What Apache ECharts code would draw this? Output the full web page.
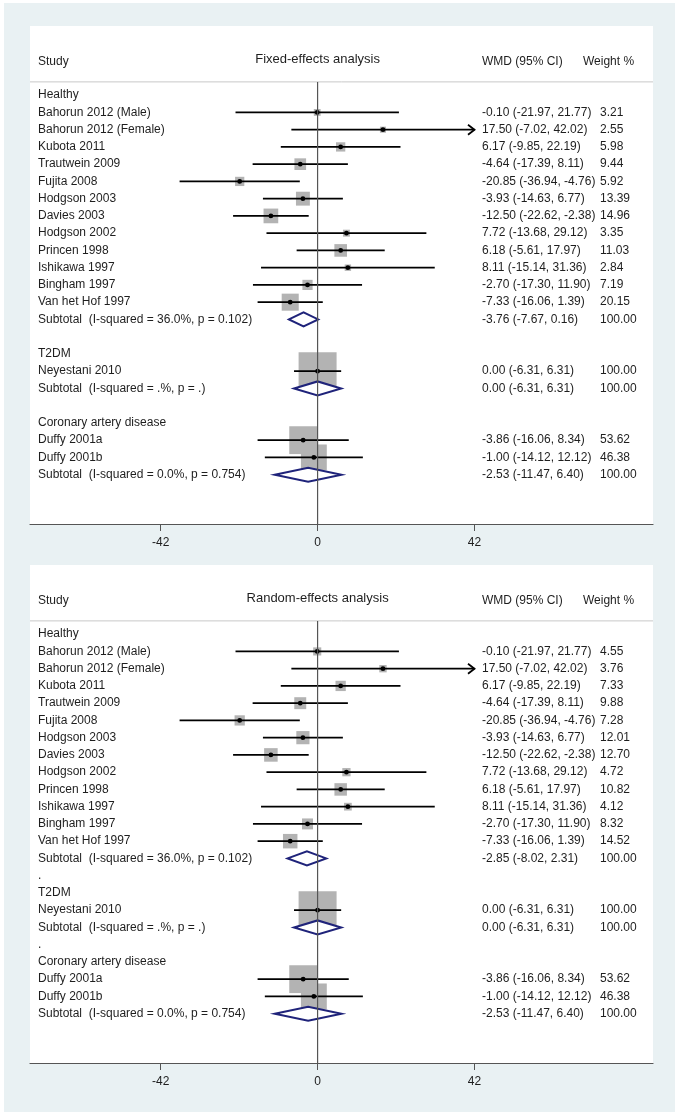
<!DOCTYPE html>
<html>
<head>
<meta charset="utf-8">
<script src="https://cdn.jsdelivr.net/npm/echarts@6/dist/echarts.min.js"></script>
<style>
html,body{margin:0;padding:0;background:#fff;}
#chart{width:679px;height:1117px;}
</style>
</head>
<body>
<div id="chart"></div>
<script>
// ---------------- DATA ----------------
const panelTitles = ["Fixed-effects analysis", "Random-effects analysis"];
const headerLabels = ["Study", "WMD (95% CI)", "Weight %"];
const groupNames = ["Healthy", "T2DM", "Coronary artery disease"];
const blankLabels = ["", "."]; // separator rows: empty in fixed panel, "." in random panel

const healthyStudies = ["Bahorun 2012 (Male)", "Bahorun 2012 (Female)", "Kubota 2011", "Trautwein 2009",
  "Fujita 2008", "Hodgson 2003", "Davies 2003", "Hodgson 2002", "Princen 1998", "Ishikawa 1997",
  "Bingham 1997", "Van het Hof 1997"];
const healthyWMD   = [-0.10, 17.50, 6.17, -4.64, -20.85, -3.93, -12.50, 7.72, 6.18, 8.11, -2.70, -7.33];
const healthyLower = [-21.97, -7.02, -9.85, -17.39, -36.94, -14.63, -22.62, -13.68, -5.61, -15.14, -17.30, -16.06];
const healthyUpper = [21.77, 42.02, 22.19, 8.11, -4.76, 6.77, -2.38, 29.12, 17.97, 31.36, 11.90, 1.39];
const healthyWeightFixed  = [3.21, 2.55, 5.98, 9.44, 5.92, 13.39, 14.96, 3.35, 11.03, 2.84, 7.19, 20.15];
const healthyWeightRandom = [4.55, 3.76, 7.33, 9.88, 7.28, 12.01, 12.70, 4.72, 10.82, 4.12, 8.32, 14.52];

const t2dmStudies = ["Neyestani 2010"];
const t2dmWMD = [0.00], t2dmLower = [-6.31], t2dmUpper = [6.31];
const t2dmWeight = [100.00];

const cadStudies = ["Duffy 2001a", "Duffy 2001b"];
const cadWMD = [-3.86, -1.00], cadLower = [-16.06, -14.12], cadUpper = [8.34, 12.12];
const cadWeight = [53.62, 46.38];

const subtotalLabels = ["Subtotal  (I-squared = 36.0%, p = 0.102)", "Subtotal  (I-squared = .%, p = .)",
  "Subtotal  (I-squared = 0.0%, p = 0.754)"];
// [healthy, t2dm, cad] subtotals per panel
const subtotalFixedWMD   = [-3.76, 0.00, -2.53];
const subtotalFixedLower = [-7.67, -6.31, -11.47];
const subtotalFixedUpper = [0.16, 6.31, 6.40];
const subtotalRandomWMD   = [-2.85, 0.00, -2.53];
const subtotalRandomLower = [-8.02, -6.31, -11.47];
const subtotalRandomUpper = [2.31, 6.31, 6.40];
const subtotalWeight = [100.00, 100.00, 100.00];

const xTicks = [-42, 0, 42];

// ---------------- LAYOUT / STYLE ----------------
const CI_LIMIT = 42;            // plotted CI limit; beyond -> arrow
const X_MIN = -76.98, X_MAX = 89.78;
const Y_MIN = -4.01, Y_MAX = 24.86;
const HEADER_ROW = -1.95, TITLE_ROW = -2.05, HEADER_LINE_ROW = -0.77;
const BOX_MAX = 38;
const FONT = 'Liberation Sans, Arial, sans-serif';
const TXT = '#1e1e1e';
const NAVY = '#1f237a';
const COL_LABEL = 8, COL_WMD = 452, COL_WEIGHT = 570, COL_WEIGHT_HDR = 553;

function fmt(v){ return v.toFixed(2); }

function buildRows(weightsHealthy, subW, subL, subU, blank){
  const rows = [];
  const groups = [
    [healthyStudies, healthyWMD, healthyLower, healthyUpper, weightsHealthy],
    [t2dmStudies, t2dmWMD, t2dmLower, t2dmUpper, t2dmWeight],
    [cadStudies, cadWMD, cadLower, cadUpper, cadWeight]
  ];
  groups.forEach((g, gi) => {
    if (gi > 0) rows.push({kind:'blank', label: blank});
    rows.push({kind:'group', label: groupNames[gi]});
    g[0].forEach((name, i) => rows.push({kind:'study', label:name, est:g[1][i], lo:g[2][i], hi:g[3][i], w:g[4][i]}));
    rows.push({kind:'sub', label: subtotalLabels[gi], est: subW[gi], lo: subL[gi], hi: subU[gi], w: subtotalWeight[gi]});
  });
  rows.forEach((r, i) => r.row = i);
  return rows;
}

const panels = [
  buildRows(healthyWeightFixed, subtotalFixedWMD, subtotalFixedLower, subtotalFixedUpper, blankLabels[0]),
  buildRows(healthyWeightRandom, subtotalRandomWMD, subtotalRandomLower, subtotalRandomUpper, blankLabels[1])
];

function textEl(text, x, y, opts){
  return {type:'text', z2: 30, style: Object.assign({text, x, y, fill: TXT, font: '12px ' + FONT,
    verticalAlign:'middle', align:'left'}, opts || {})};
}

function makeRowRender(rows){
  return function(params, api){
    const r = rows[params.dataIndex];
    const cs = params.coordSys;
    const y = api.coord([0, r.row])[1];
    const ch = [];
    ch.push(textEl(r.label, cs.x + COL_LABEL, y));
    if (r.kind === 'study' || r.kind === 'sub'){
      const xe = api.coord([r.est, r.row])[0];
      const xlo = api.coord([Math.max(r.lo, -CI_LIMIT), r.row])[0];
      const xhi = api.coord([Math.min(r.hi, CI_LIMIT), r.row])[0];
      if (r.kind === 'study'){
        const side = BOX_MAX * Math.sqrt(r.w / 100);
        ch.push({type:'rect', z2: 1, shape:{x: xe - side/2, y: y - side/2, width: side, height: side},
          style:{fill:'#b3b3b3'}});
        ch.push({type:'line', z2: 5, shape:{x1: xlo, y1: y, x2: xhi, y2: y},
          style:{stroke:'#000', lineWidth:1.8}});
        if (r.hi > CI_LIMIT){
          ch.push({type:'polyline', z2: 5, shape:{points:[[xhi-6.5, y-5],[xhi, y],[xhi-6.5, y+5]]},
            style:{stroke:'#000', lineWidth:1.8, fill:null}});
        }
        ch.push({type:'circle', z2: 6, shape:{cx: xe, cy: y, r: 2.4}, style:{fill:'#000'}});
      } else {
        ch.push({type:'polygon', z2: 8, shape:{points:[[xlo, y],[xe, y-7],[xhi, y],[xe, y+7]]},
          style:{fill:'#fff', stroke: NAVY, lineWidth: 2}});
      }
      ch.push(textEl(fmt(r.est) + ' (' + fmt(r.lo) + ', ' + fmt(r.hi) + ')', cs.x + COL_WMD, y));
      ch.push(textEl(fmt(r.w), cs.x + COL_WEIGHT, y));
    }
    return {type:'group', children: ch};
  };
}

function makeFrameRender(title){
  return function(params, api){
    const cs = params.coordSys;
    const yh = api.coord([0, HEADER_LINE_ROW])[1];
    const yt = api.coord([0, HEADER_ROW])[1];
    const x0 = api.coord([0, HEADER_LINE_ROW])[0];
    const yb = api.coord([0, Y_MAX])[1];
    return {type:'group', children:[
      {type:'line', z2: 2, shape:{x1: cs.x, y1: yh, x2: cs.x + cs.width, y2: yh}, style:{stroke:'#c8c8c8', lineWidth:1}},
      {type:'line', z2: 40, shape:{x1: x0, y1: yh, x2: x0, y2: yb}, style:{stroke:'#555', lineWidth:1.2}},
      textEl(headerLabels[0], cs.x + COL_LABEL, yt),
      textEl(title, x0, api.coord([0, TITLE_ROW])[1], {align:'center', font:'13px ' + FONT}),
      textEl(headerLabels[1], cs.x + COL_WMD, yt),
      textEl(headerLabels[2], cs.x + COL_WEIGHT_HDR, yt)
    ]};
  };
}

const grids = [
  {left:30, right:26, top:26, height:498},
  {left:30, right:26, top:565, height:498}
].map(g => Object.assign({show:true, backgroundColor:'#fff', borderWidth:0, containLabel:false}, g));

const xAxes = grids.map((g, i) => ({
  type:'value', gridIndex:i, min:X_MIN, max:X_MAX, position:'bottom',
  axisLine:{show:true, onZero:false, lineStyle:{color:'#555', width:1.2}},
  axisTick:{show:true, customValues: xTicks, length:7, lineStyle:{color:'#555', width:1}},
  axisLabel:{show:true, customValues: xTicks, margin:13, fontSize:12, color:TXT, fontFamily:FONT},
  splitLine:{show:false}
}));
const yAxes = grids.map((g, i) => ({
  type:'value', gridIndex:i, min:Y_MIN, max:Y_MAX, inverse:true, show:false, splitLine:{show:false}
}));

const series = [];
panels.forEach((rows, i) => {
  series.push({type:'custom', xAxisIndex:i, yAxisIndex:i, clip:false,
    data: rows.map(r => [r.kind === 'study' || r.kind === 'sub' ? r.est : 0, r.row]),
    encode:{x:0, y:1}, renderItem: makeRowRender(rows), silent:true, animation:false});
  series.push({type:'custom', xAxisIndex:i, yAxisIndex:i, clip:false, z:5,
    data:[[0, HEADER_LINE_ROW]], encode:{x:0, y:1}, renderItem: makeFrameRender(panelTitles[i]),
    silent:true, animation:false});
});

const chart = echarts.init(document.getElementById('chart'), null, {renderer:'canvas'});
chart.setOption({
  backgroundColor:'#ffffff',
  animation:false,
  graphic:[{type:'rect', z:-10, silent:true, shape:{x:4, y:3, width:671, height:1109}, style:{fill:'#e9f1f3'}}],
  grid: grids, xAxis: xAxes, yAxis: yAxes, series
});
</script>
</body>
</html>
